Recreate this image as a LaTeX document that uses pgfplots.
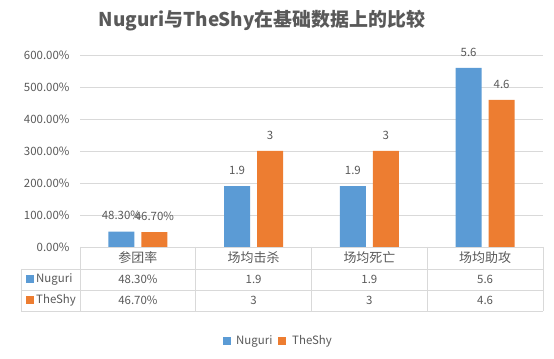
\documentclass[border=0pt]{standalone}
\usepackage{fontspec}
\setmainfont{Noto Sans CJK SC}
\usepackage{pgfplots}
\pgfplotsset{compat=1.18}
\definecolor{nblue}{HTML}{5B9BD5}
\definecolor{norange}{HTML}{ED7D31}
\definecolor{txt}{HTML}{595959}
\definecolor{grd}{HTML}{D9D9D9}
\newcommand\fs{\fontsize{11.5}{13}\selectfont}
\newcommand\fc{\fontsize{13}{15}\selectfont}
\begin{document}
\begin{tikzpicture}
\useasboundingbox (0,0) rectangle (554bp,359bp);
\begin{axis}[
 at={(80bp,112bp)}, anchor=south west,
 scale only axis, width=463bp, height=192bp,
 xmin=-0.5, xmax=3.5, ymin=0, ymax=600,
 ytick={0,100,...,600},
 yticklabels={0.00\%,100.00\%,200.00\%,300.00\%,400.00\%,500.00\%,600.00\%},
 xtick=\empty,
 ymajorgrids, grid style={grd, line width=0.75bp},
 axis line style={draw=none},
 major tick length=0pt,
 yticklabel style={font=\fs, text=txt, xshift=-7bp},
 ybar=7bp, bar width=26bp,
 nodes near coords, point meta=explicit symbolic,
 nodes near coords style={font=\fs, text=txt, anchor=south, yshift=8bp},
 clip=false,
]
\addplot[fill=nblue, draw=none] coordinates {(0,48.3)[48.30\%] (1,190)[1.9] (2,190)[1.9] (3,560)[5.6]};
\addplot[fill=norange, draw=none] coordinates {(0,46.7)[46.70\%] (1,300)[3] (2,300)[3] (3,460)[4.6]};
\end{axis}
% data table
\begin{scope}[grd, line width=0.75bp]
\draw (80bp,112bp) -- (543bp,112bp);
\draw (21bp,90bp) -- (543bp,90bp);
\draw (21bp,69bp) -- (543bp,69bp);
\draw (21bp,48bp) -- (543bp,48bp);
\draw (21bp,90bp) -- (21bp,48bp);
\foreach \x in {80,195.75,311.5,427.25,543} \draw (\x bp,112bp) -- (\x bp,48bp);
\end{scope}
\begin{scope}[every node/.style={font=\fs, text=txt, inner sep=0pt}]
\node[font=\fc] at (137.9bp,101bp) {参团率};
\node[font=\fc] at (253.6bp,101bp) {场均击杀};
\node[font=\fc] at (369.4bp,101bp) {场均死亡};
\node[font=\fc] at (485.1bp,101bp) {场均助攻};
\node at (137.9bp,79.5bp) {48.30\%};
\node at (253.6bp,79.5bp) {1.9};
\node at (369.4bp,79.5bp) {1.9};
\node at (485.1bp,79.5bp) {5.6};
\node at (137.9bp,58.5bp) {46.70\%};
\node at (253.6bp,58.5bp) {3};
\node at (369.4bp,58.5bp) {3};
\node at (485.1bp,58.5bp) {4.6};
\fill[nblue] (26bp,75.5bp) rectangle (34bp,83.5bp);
\node[anchor=west] at (36bp,79.5bp) {Nuguri};
\fill[norange] (26bp,54.5bp) rectangle (34bp,62.5bp);
\node[anchor=west] at (36bp,58.5bp) {TheShy};
% legend
\fill[nblue] (223bp,14bp) rectangle (231bp,22bp);
\node[anchor=west] at (236bp,18bp) {Nuguri};
\fill[norange] (278bp,14bp) rectangle (286bp,22bp);
\node[anchor=west] at (292bp,18bp) {TheShy};
\end{scope}
\node[font=\fontsize{19}{22}\selectfont\bfseries, text=txt] at (262bp,338bp) {Nuguri与TheShy在基础数据上的比较};
\end{tikzpicture}
\end{document}
